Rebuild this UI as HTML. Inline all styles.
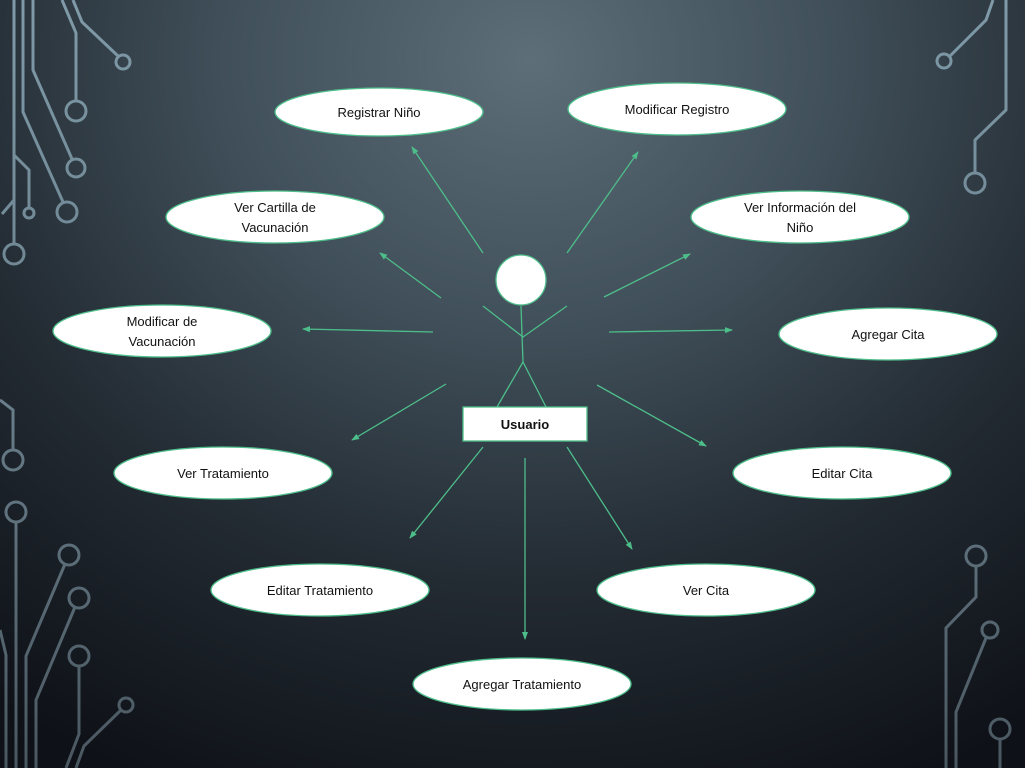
<!DOCTYPE html>
<html><head><meta charset="utf-8"><style>
html,body{margin:0;padding:0;}
body{width:1025px;height:768px;overflow:hidden;background:radial-gradient(ellipse 900px 800px at 530px 60px,#5d6e79 0%,#3f4e58 35%,#232b33 65%,#0e1117 100%);}
svg{position:absolute;left:0;top:0;}
text{font-family:"Liberation Sans",sans-serif;font-size:13px;fill:#111;text-anchor:middle;}
</style></head><body>
<svg width="1025" height="768" viewBox="0 0 1025 768">
<defs>
<marker id="a" markerWidth="8" markerHeight="8" refX="7" refY="4" orient="auto" markerUnits="userSpaceOnUse"><path d="M0,1 L8,4 L0,7 Z" fill="#4dbe8a"/></marker>
<linearGradient id="cg" gradientUnits="userSpaceOnUse" x1="0" y1="0" x2="0" y2="768"><stop offset="0" stop-color="#7f9aa8"/><stop offset="0.5" stop-color="#6a808c"/><stop offset="1" stop-color="#4a5760"/></linearGradient>
</defs>
<g fill="none" stroke="url(#cg)" stroke-width="3">
<path d="M14,0 V244"/><circle cx="14" cy="254" r="10"/>
<path d="M14,155 L29,170 V207"/><circle cx="29" cy="213" r="5"/>
<path d="M14,200 L2,214"/>
<path d="M23,0 V112 L63,202"/><circle cx="67" cy="212" r="10"/>
<path d="M33,0 V70 L72,159"/><circle cx="76" cy="168" r="9"/>
<path d="M62,0 L76,33 V101"/><circle cx="76" cy="111" r="10"/>
<path d="M73,0 L82,22 L118,56"/><circle cx="123" cy="62" r="7"/>
<path d="M0,400 L13,410 V450"/><circle cx="13" cy="460" r="10"/>
<circle cx="16" cy="512" r="10"/><path d="M16,522 V768"/>
<circle cx="69" cy="555" r="10"/><path d="M65,564 L26,656 V768"/>
<circle cx="79" cy="598" r="10"/><path d="M75,607 L36,700 V768"/>
<circle cx="79" cy="656" r="10"/><path d="M79,666 V734 L66,768"/>
<circle cx="126" cy="705" r="7"/><path d="M121,710 L84,746 L76,768"/>
<path d="M0,630 L6,655 V768"/>
<path d="M993,0 L986,20 L950,56"/><circle cx="944" cy="61" r="7"/>
<path d="M1006,0 V110 L975,140 V173"/><circle cx="975" cy="183" r="10"/>
<circle cx="976" cy="556" r="10"/><path d="M976,566 V597 L946,628 V768"/>
<circle cx="990" cy="630" r="8"/><path d="M986,638 L956,712 V768"/>
<circle cx="1000" cy="729" r="10"/><path d="M1000,739 V768"/>
</g>
<g stroke="#4dbe8a" stroke-width="1.3" fill="none" marker-end="url(#a)">
<line x1="483" y1="253" x2="412" y2="147"/>
<line x1="567" y1="253" x2="638" y2="152"/>
<line x1="441" y1="298" x2="380" y2="253"/>
<line x1="604" y1="297" x2="690" y2="254"/>
<line x1="433" y1="332" x2="303" y2="329"/>
<line x1="609" y1="332" x2="732" y2="330"/>
<line x1="446" y1="384" x2="352" y2="440"/>
<line x1="597" y1="385" x2="706" y2="446"/>
<line x1="483" y1="447" x2="410" y2="538"/>
<line x1="567" y1="447" x2="632" y2="549"/>
<line x1="525" y1="458" x2="525" y2="639"/>
</g>
<g stroke="#4dbe8a" stroke-width="1.3" fill="none">
<line x1="521" y1="306" x2="523" y2="362"/>
<polyline points="483,306 523,337 567,306"/>
<polyline points="497,407 523,362 546,407"/>
</g>
<circle cx="521" cy="280" r="25" fill="#fff" stroke="#4dbe8a" stroke-width="1.3"/>
<rect x="463" y="407" width="124" height="34" fill="#fff" stroke="#4dbe8a" stroke-width="1.3"/>
<text x="525" y="429" style="font-weight:bold">Usuario</text>
<g fill="#fff" stroke="#4dbe8a" stroke-width="1.3">
<ellipse cx="379" cy="112" rx="104" ry="24"/>
<ellipse cx="677" cy="109" rx="109" ry="26"/>
<ellipse cx="275" cy="217" rx="109" ry="26"/>
<ellipse cx="800" cy="217" rx="109" ry="26"/>
<ellipse cx="162" cy="331" rx="109" ry="26"/>
<ellipse cx="888" cy="334" rx="109" ry="26"/>
<ellipse cx="223" cy="473" rx="109" ry="26"/>
<ellipse cx="842" cy="473" rx="109" ry="26"/>
<ellipse cx="320" cy="590" rx="109" ry="26"/>
<ellipse cx="706" cy="590" rx="109" ry="26"/>
<ellipse cx="522" cy="684" rx="109" ry="26"/>
</g>
<text x="379" y="117">Registrar Niño</text>
<text x="677" y="114">Modificar Registro</text>
<text x="275" y="212">Ver Cartilla de</text><text x="275" y="232">Vacunación</text>
<text x="800" y="212">Ver Información del</text><text x="800" y="232">Niño</text>
<text x="162" y="326">Modificar de</text><text x="162" y="346">Vacunación</text>
<text x="888" y="339">Agregar Cita</text>
<text x="223" y="478">Ver Tratamiento</text>
<text x="842" y="478">Editar Cita</text>
<text x="320" y="595">Editar Tratamiento</text>
<text x="706" y="595">Ver Cita</text>
<text x="522" y="689">Agregar Tratamiento</text>
</svg>
</body></html>
